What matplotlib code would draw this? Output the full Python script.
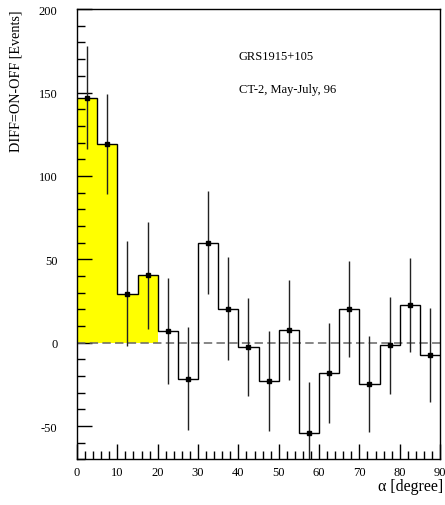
import numpy as np
import matplotlib
matplotlib.use("Agg")
import matplotlib.pyplot as plt
from matplotlib.ticker import MultipleLocator

plt.rcParams['font.family'] = ['Liberation Serif', 'DejaVu Serif']
plt.rcParams['axes.unicode_minus'] = False

bin_edges = [0, 5, 10, 15, 20, 25, 30, 35, 40, 45, 50, 55, 60, 65, 70, 75, 80, 85, 90]
values = [147, 119, 29.5, 40.5, 7, -21.5, 60, 20.5, -2.5, -23, 7.8, -54, -18, 20.2, -24.7, -1.6, 22.6, -7.4]
errors = [31, 30, 31.5, 32, 31.5, 31, 31, 31, 29.5, 30, 30, 30.5, 30, 29, 29, 29, 28, 28]
signal_max = 20

edges = np.array(bin_edges, dtype=float)
vals = np.array(values, dtype=float)
errs = np.array(errors, dtype=float)
centers = (edges[:-1] + edges[1:]) / 2

fig = plt.figure(figsize=(4.45, 5.06), dpi=100)
ax = fig.add_axes([0.173, 0.09, 0.816, 0.89])

# yellow fill for signal region
mask = edges[1:] <= signal_max
for i in np.where(mask)[0]:
    ax.fill_between([edges[i], edges[i+1]], 0, vals[i], color='#ffff00', linewidth=0, zorder=1)

ax.axhline(0, color='#666666', linestyle=(0, (5.5, 2.8)), linewidth=1.1, zorder=2)

ax.stairs(vals, edges, baseline=None, color='black', linewidth=1.0, zorder=3)
ax.errorbar(centers, vals, yerr=errs, fmt='s', color='black', ecolor='#222222',
            markersize=2.3, elinewidth=1.0, capsize=0, zorder=4)

ax.set_xlim(0, 90)
ax.set_ylim(-70, 200)
ax.xaxis.set_major_locator(MultipleLocator(10))
ax.xaxis.set_minor_locator(MultipleLocator(2))
ax.yaxis.set_major_locator(MultipleLocator(50))
ax.yaxis.set_minor_locator(MultipleLocator(10))
ax.tick_params(which='both', direction='in', top=False, right=False, labelsize=9, width=1.0)
ax.tick_params(which='major', length=11)
ax.tick_params(which='minor', length=5.5)
ax.tick_params(axis='x', pad=5)
ax.tick_params(axis='y', pad=14)
for s in ax.spines.values():
    s.set_linewidth(1.0)

fig.text(0.036, 0.98, 'DIFF=ON-OFF [Events]', rotation=90, ha='center', va='top', fontsize=10.2)
fig.text(0.995, 0.0375, 'α [degree]', ha='right', va='center', fontsize=11.5)

ax.text(238.7/445, 1 - 57/506, 'GRS1915+105', transform=fig.transFigure, ha='left', va='center', fontsize=9)
ax.text(238.7/445, 1 - 90/506, 'CT-2, May-July, 96', transform=fig.transFigure, ha='left', va='center', fontsize=9)

fig.savefig('out.png', dpi=100)
